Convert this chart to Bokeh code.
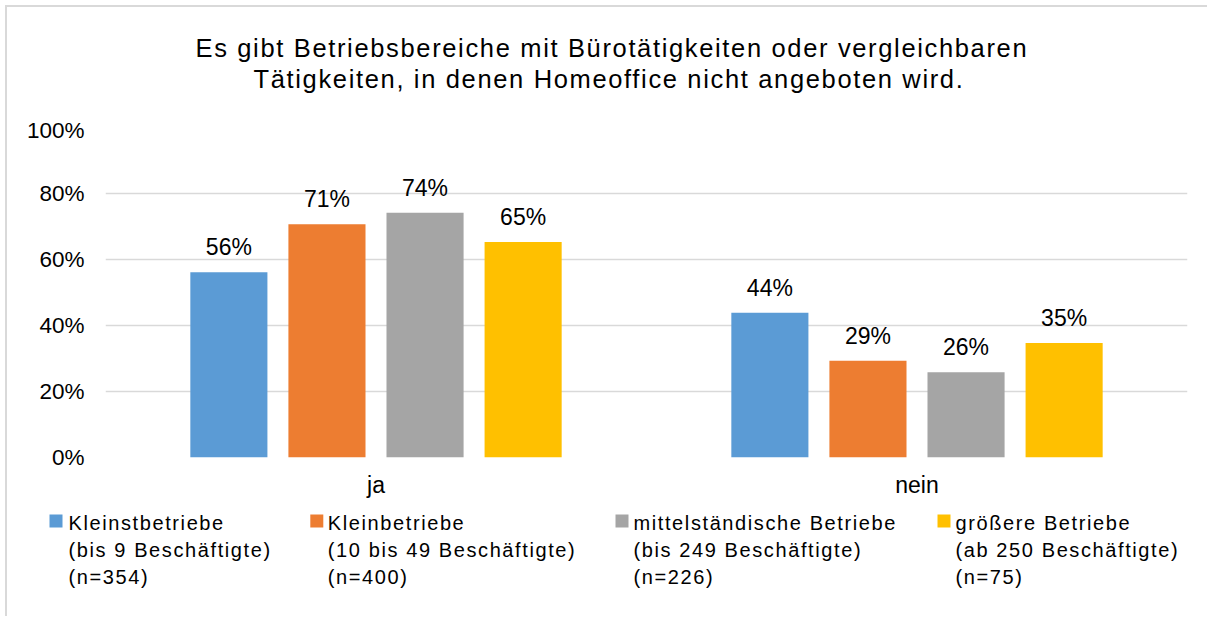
from bokeh.plotting import figure
from bokeh.models import (ColumnDataSource, FactorRange, Range1d, NumeralTickFormatter,
                          FixedTicker, LabelSet)
from bokeh.transform import dodge
from bokeh.layouts import column
from bokeh.core.properties import value
from bokeh.embed import file_html
from bokeh.resources import INLINE

# ---------------- data ----------------
categories = ["ja", "nein"]
kleinst = [0.561, 0.439]
klein = [0.707, 0.293]
mittel = [0.742, 0.258]
groesser = [0.653, 0.347]
series_keys = ["kleinst", "klein", "mittel", "groesser"]
series_values = [kleinst, klein, mittel, groesser]
series_colors = ["#5B9BD5", "#ED7D31", "#A5A5A5", "#FFC000"]
legend_lines = [
    ["Kleinstbetriebe", "(bis 9 Beschäftigte)", "(n=354)"],
    ["Kleinbetriebe", "(10 bis 49 Beschäftigte)", "(n=400)"],
    ["mittelständische Betriebe", "(bis 249 Beschäftigte)", "(n=226)"],
    ["größere Betriebe", "(ab 250 Beschäftigte)", "(n=75)"],
]
title_lines = ["Es gibt Betriebsbereiche mit Bürotätigkeiten oder vergleichbaren",
               "Tätigkeiten, in denen Homeoffice nicht angeboten wird."]
y_ticks = [0, 0.2, 0.4, 0.6, 0.8, 1.0]

FONT = "Liberation Sans"
W = 1200

# ---------------- title ----------------
tf = figure(width=W, height=110, output_backend="svg", toolbar_location=None,
            x_range=Range1d(0, W), y_range=Range1d(0, 110), min_border=0,
            x_axis_location=None, y_axis_location=None, frame_align=False,
            styles={"letter-spacing": "1.65px"})
tf.grid.visible = False
tf.outline_line_color = None
tsrc = ColumnDataSource(dict(x=[188, 246], y=[69.5, 39], t=title_lines))
tf.text(x="x", y="y", text="t", source=tsrc, text_font=value(FONT),
        text_font_size="25.5px", text_align="left", text_baseline="alphabetic",
        text_color="#000000")

# ---------------- main chart ----------------
p = figure(width=W, height=388, output_backend="svg", toolbar_location=None,
           x_range=FactorRange(factors=categories, range_padding=0),
           y_range=Range1d(0, 1), min_border_left=98, min_border_right=20,
           min_border_top=10, min_border_bottom=48, frame_align=False)
p.outline_line_color = None
p.xgrid.grid_line_color = None
p.ygrid.grid_line_color = "#D9D9D9"
p.ygrid.grid_line_width = 1.3
p.yaxis.ticker = FixedTicker(ticks=y_ticks)
p.yaxis.formatter = NumeralTickFormatter(format="0%")
for ax in (p.xaxis[0], p.yaxis[0]):
    ax.axis_line_color = None
    ax.major_tick_line_color = None
    ax.minor_tick_line_color = None
    ax.major_label_text_font = FONT
    ax.major_label_text_color = "#000000"
p.yaxis.major_label_text_font_size = "22.5px"
p.xaxis.major_label_text_font_size = "23px"
p.yaxis.major_label_standoff = 15
p.xaxis.major_label_standoff = 8

data = dict(cat=categories)
for k, v in zip(series_keys, series_values):
    data[k] = v
    data[k + "_lbl"] = [f"{round(x * 100)}%" for x in v]
src = ColumnDataSource(data)

pitch = 0.1813
offsets = [-1.5 * pitch, -0.5 * pitch, 0.5 * pitch, 1.5 * pitch]
for k, off, col in zip(series_keys, offsets, series_colors):
    xd = dodge("cat", off, range=p.x_range)
    p.vbar(x=xd, top=k, width=0.1425, source=src, fill_color=col, line_color=None)
    p.add_layout(LabelSet(x=xd, y=k, text=k + "_lbl", source=src, y_offset=17,
                          text_align="center", text_baseline="alphabetic",
                          text_font=value(FONT), text_font_size="23px",
                          text_color="#000000"))

# ---------------- legend ----------------
lf = figure(width=W, height=111, output_backend="svg", toolbar_location=None,
            x_range=Range1d(0, W), y_range=Range1d(0, 111), min_border=0,
            x_axis_location=None, y_axis_location=None, frame_align=False,
            styles={"letter-spacing": "1.6px"})
lf.grid.visible = False
lf.outline_line_color = None
sq_x = [48.5, 309.3, 614.5, 936.5]
tx_x = [61, 320.3, 626, 948]
lf.rect(x=sq_x, y=[95.5] * 4, width=13, height=13, fill_color=series_colors,
        line_color=None)
lx, ly, lt = [], [], []
for xx, lines in zip(tx_x, legend_lines):
    for yy, t in zip([94, 67, 40], lines):
        lx.append(xx); ly.append(yy); lt.append(t)
lf.text(x=lx, y=ly, text=lt, text_font=value(FONT), text_font_size="20px",
        text_align="left", text_baseline="alphabetic", text_color="#000000")

layout = column(tf, p, lf, styles={"margin-left": "5px", "margin-top": "5px",
                                   "border-left": "2px solid #D9D9D9",
                                   "border-top": "2px solid #D9D9D9"})
open("out.html", "w").write(file_html(layout, INLINE))
